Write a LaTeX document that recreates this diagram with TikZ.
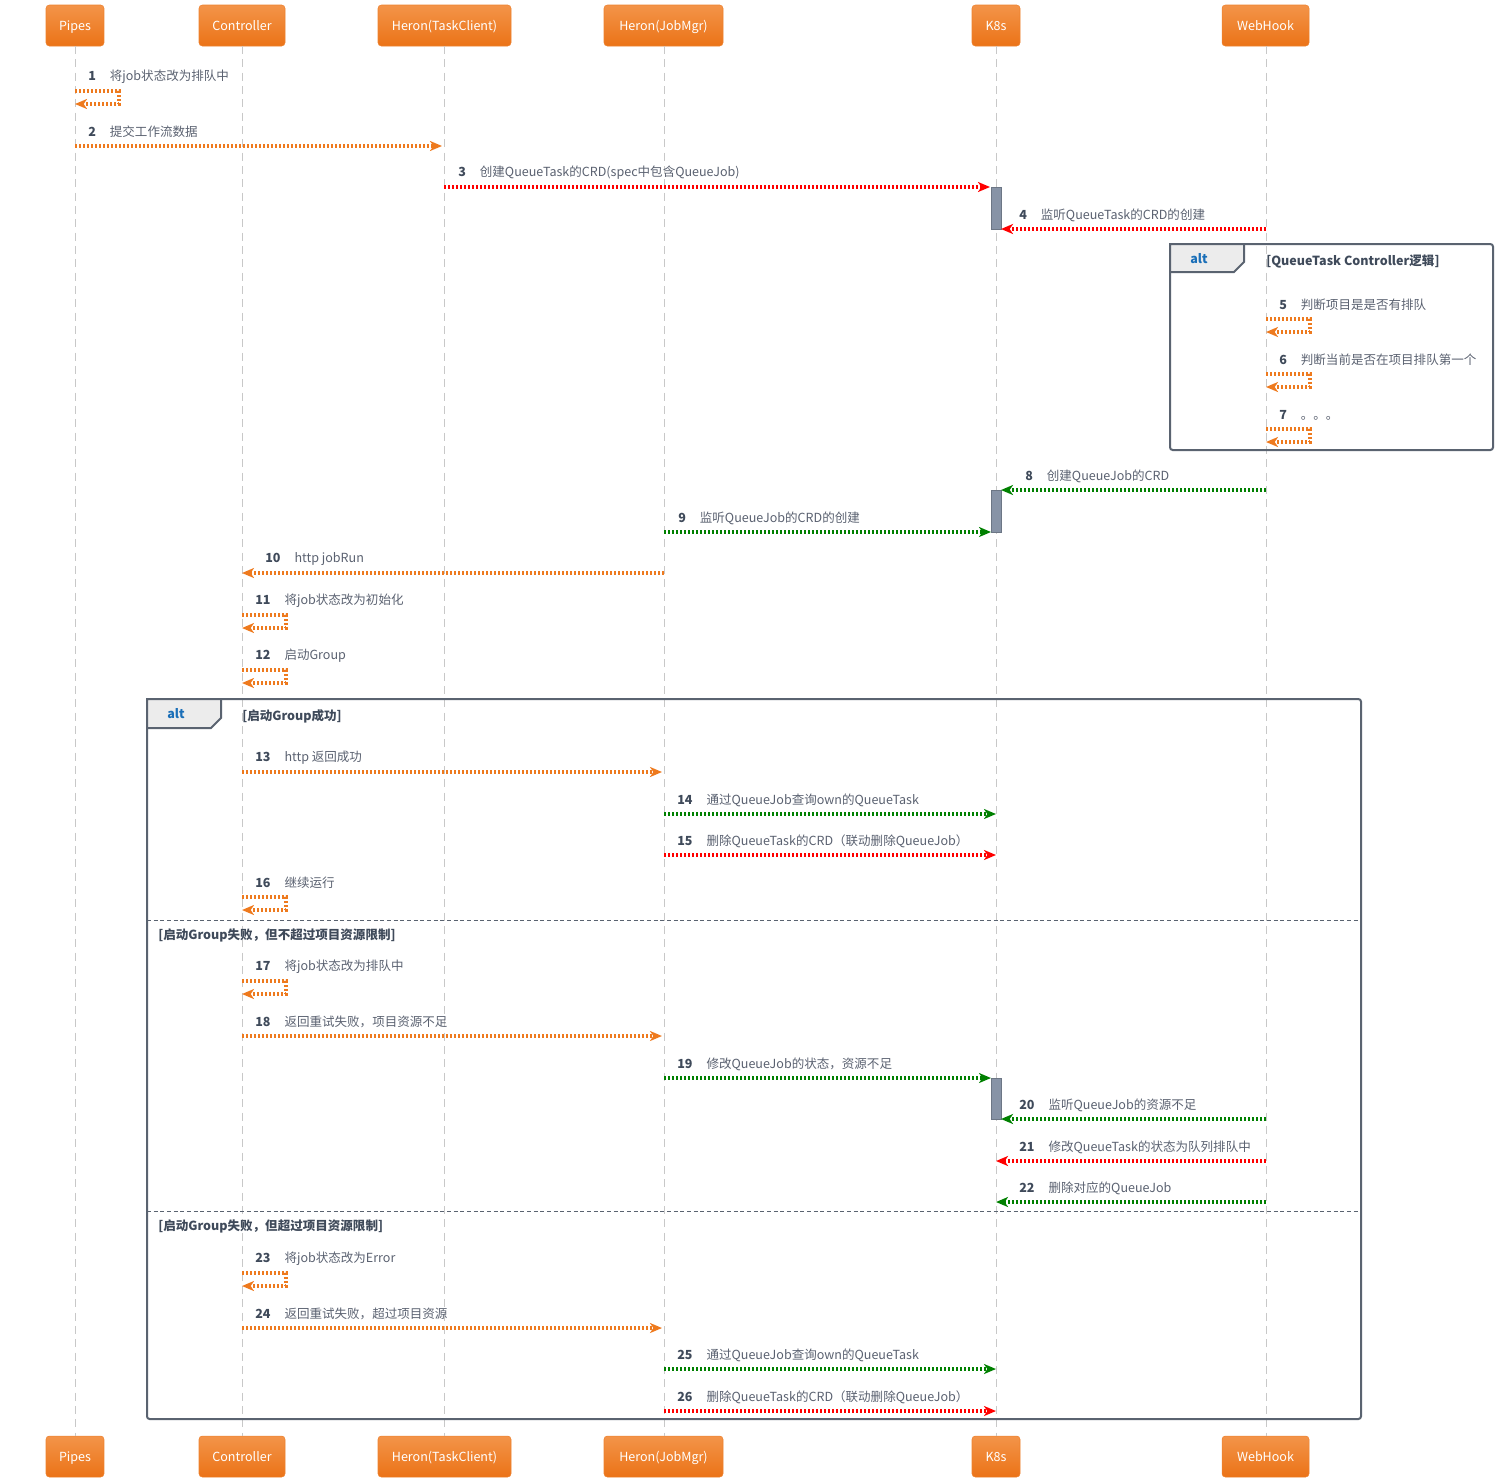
\documentclass[tikz,border=0pt]{standalone}
\usepackage{fontspec}
\setmainfont{Noto Sans CJK SC}
\usetikzlibrary{arrows.meta}
\definecolor{org}{HTML}{EE7A1E}
\definecolor{hdtop}{HTML}{F39449}
\definecolor{hdbot}{HTML}{EB7317}
\definecolor{rd}{HTML}{FF0000}
\definecolor{gr}{HTML}{008000}
\definecolor{txt}{HTML}{5A6170}
\definecolor{numc}{HTML}{3F4A5A}
\definecolor{frm}{HTML}{5A6370}
\definecolor{actc}{HTML}{8793A6}
\definecolor{altc}{HTML}{1A6FB8}
\definecolor{lifec}{HTML}{C8C8C8}
\newcommand\seqmsg[7]{%
  \coordinate (a#1) at (#2,#3);
  \coordinate (b#1) at (#4,#3);
  \draw[msgline,#5] (a#1) -- (b#1);
  \node[msglbl] (l#1) at (#6,#3-14) {\textbf{\color{numc}#1}\hspace{10.5pt}#7};}
\newcommand\seqloop[6]{%
  \coordinate (a#1) at (#2,#3);
  \coordinate (b#1) at (#2,#4);
  \draw[msgline,#5] (a#1) -- ++(44,0) |- (b#1);
  \node[msglbl] (l#1) at (#2+13,#3-14) {\textbf{\color{numc}#1}\hspace{10.5pt}#6};}
\begin{document}
\begin{tikzpicture}[x=0.75pt,y=-0.75pt,
  hdr/.style={rounded corners=2.5pt,top color=hdtop,bottom color=hdbot,draw=hdbot!90!white,line width=0.4pt,
    minimum height=30.75pt,text=white,font=\fontsize{9.4pt}{11pt}\selectfont,inner sep=0pt,
    text height=10.4pt,text depth=2.2pt},
  life/.style={draw=lifec,line width=0.75pt,dash pattern=on 6pt off 4pt},
  msgline/.style={line width=2.3pt,dash pattern=on 1.8pt off 1.2pt,-{Stealth[length=9pt,width=7.5pt,inset=2.5pt]}},
  msglbl/.style={anchor=west,text=txt,font=\fontsize{9.4pt}{11pt}\selectfont,inner sep=0pt},
  frame/.style={draw=frm,line width=1.5pt,rounded corners=2pt},
  tab/.style={draw=frm,line width=1.5pt,fill=gray!15},
  cond/.style={anchor=west,text=numc,font=\bfseries\fontsize{9.4pt}{11pt}\selectfont,inner sep=0pt},
  altl/.style={text=altc,font=\bfseries\fontsize{9.4pt}{11pt}\selectfont,inner sep=0pt},
  act/.style={fill=actc,draw=actc!80!black,line width=0.5pt},
  sep/.style={draw=frm,line width=0.75pt,dash pattern=on 3pt off 2pt}]
\useasboundingbox (0,0) rectangle (1498,1482);
% headers
\foreach \n/\cx/\w/\t in {P/75/58/Pipes,C/242/86/Controller,T/444.5/133/Heron(TaskClient),J/663.5/119/Heron(JobMgr),K/996/48/K8s,W/1265.5/87/WebHook}{
  \node[hdr,minimum width=\w*0.75pt] (h\n) at (\cx,25.5) {\t};
  \node[hdr,minimum width=\w*0.75pt] (e\n) at (\cx,1456.5) {\t};
}
% lifelines
\foreach \n/\lx in {P/75,C/242,T/444,J/664,K/996,W/1266}{
  \draw[life] (\lx,46) -- (\lx,1436);
}
% frames
\draw[frame] (1170,244) rectangle (1493,450);
\draw[tab] (1170,244) -- (1244,244) -- (1244,262) -- (1234,272) -- (1170,272) -- cycle;
\node[altl] (alt1) at (1199,259) {alt};
\node[cond] (c1) at (1266,261) {[QueueTask Controller逻辑]};
\draw[frame] (147,699) rectangle (1361,1419);
\draw[tab] (147,699) -- (221,699) -- (221,718) -- (211,728) -- (147,728) -- cycle;
\node[altl] (alt2) at (176,714) {alt};
\node[cond] (c2) at (242,716) {[启动Group成功]};
\draw[sep] (147,920) -- (1361,920);
\node[cond] (c3) at (158,935) {[启动Group失败，但不超过项目资源限制]};
\draw[sep] (147,1211) -- (1361,1211);
\node[cond] (c4) at (158,1226) {[启动Group失败，但超过项目资源限制]};
% activations
\draw[act] (991,187) rectangle (1001,229);
\draw[act] (991,490) rectangle (1001,532);
\draw[act] (991,1078) rectangle (1001,1119);
% messages
\seqloop{1}{75}{91}{104}{org}{将job状态改为排队中}
\seqmsg{2}{75}{146}{442}{org}{88}{提交工作流数据}
\seqmsg{3}{444}{187}{990}{rd}{458}{创建QueueTask的CRD(spec中包含QueueJob)}
\seqmsg{4}{1266}{229}{1001}{rd}{1019}{监听QueueTask的CRD的创建}
\seqloop{5}{1266}{319}{332}{org}{判断项目是是否有排队}
\seqloop{6}{1266}{374}{387}{org}{判断当前是否在项目排队第一个}
\seqloop{7}{1266}{429}{442}{org}{。。。}
\seqmsg{8}{1266}{490}{1001}{gr}{1025}{创建QueueJob的CRD}
\seqmsg{9}{664}{532}{991}{gr}{678}{监听QueueJob的CRD的创建}
\seqmsg{10}{664}{573}{242}{org}{265}{http jobRun}
\seqloop{11}{242}{615}{628}{org}{将job状态改为初始化}
\seqloop{12}{242}{670}{683}{org}{启动Group}
\seqmsg{13}{242}{772}{662}{org}{255}{http 返回成功}
\seqmsg{14}{664}{814}{996}{gr}{677}{通过QueueJob查询own的QueueTask}
\seqmsg{15}{664}{855}{996}{rd}{677}{删除QueueTask的CRD（联动删除QueueJob）}
\seqloop{16}{242}{897}{910}{org}{继续运行}
\seqloop{17}{242}{981}{994}{org}{将job状态改为排队中}
\seqmsg{18}{242}{1036}{662}{org}{255}{返回重试失败，项目资源不足}
\seqmsg{19}{664}{1078}{991}{gr}{677}{修改QueueJob的状态，资源不足}
\seqmsg{20}{1266}{1119}{1001}{gr}{1019}{监听QueueJob的资源不足}
\seqmsg{21}{1266}{1161}{996}{rd}{1019}{修改QueueTask的状态为队列排队中}
\seqmsg{22}{1266}{1202}{996}{gr}{1019}{删除对应的QueueJob}
\seqloop{23}{242}{1273}{1286}{org}{将job状态改为Error}
\seqmsg{24}{242}{1328}{662}{org}{255}{返回重试失败，超过项目资源}
\seqmsg{25}{664}{1369}{996}{gr}{677}{通过QueueJob查询own的QueueTask}
\seqmsg{26}{664}{1411}{996}{rd}{677}{删除QueueTask的CRD（联动删除QueueJob）}
\end{tikzpicture}
\end{document}
